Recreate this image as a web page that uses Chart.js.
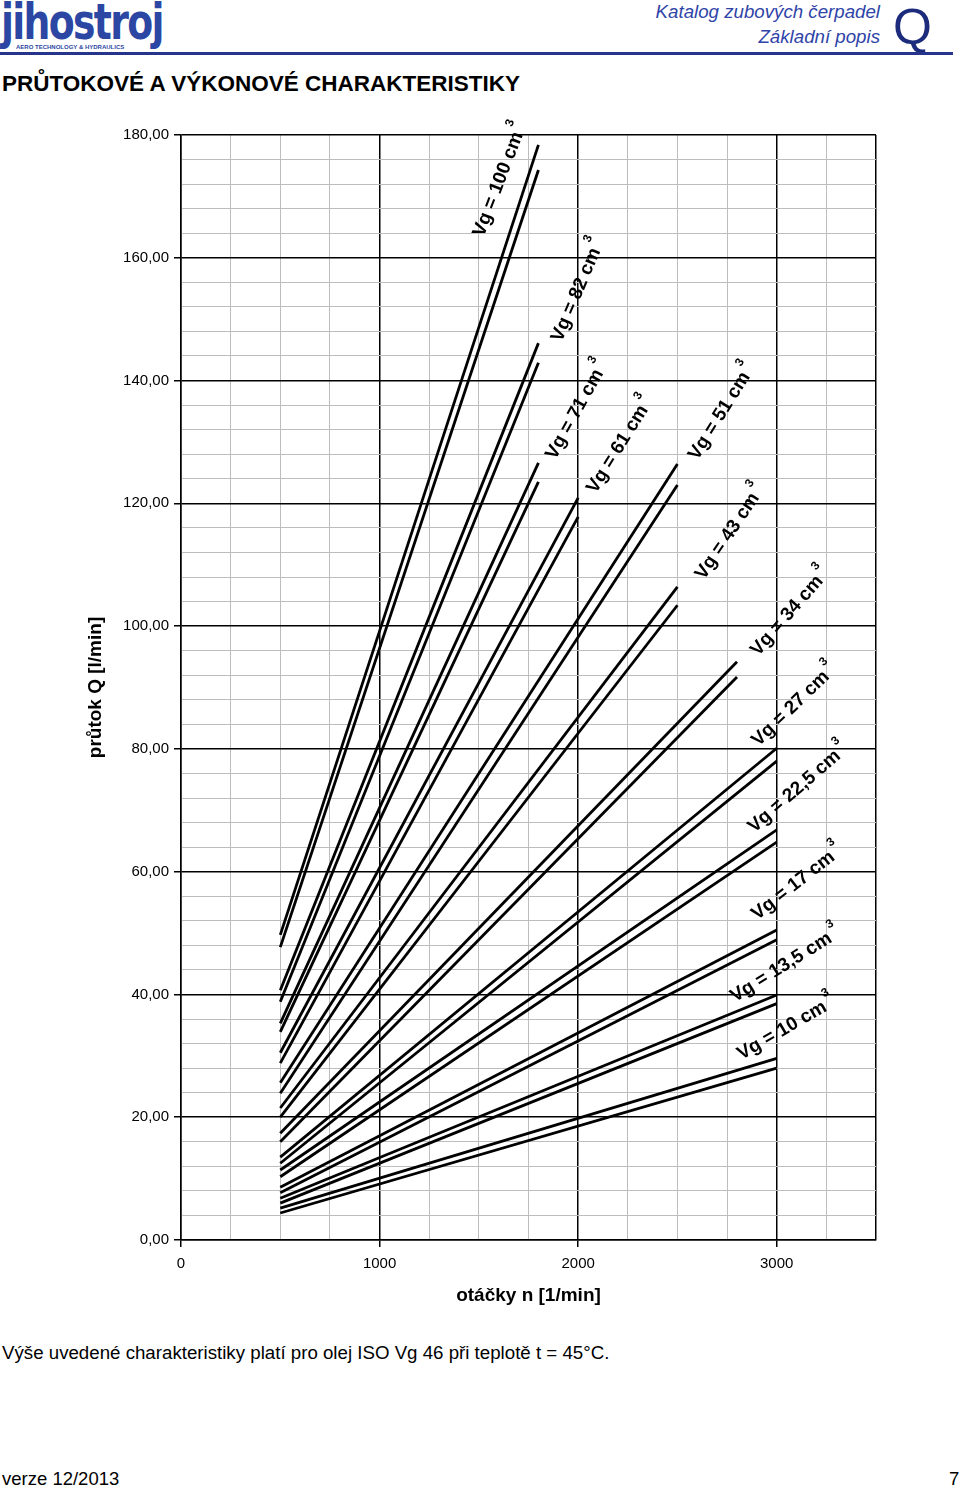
<!DOCTYPE html>
<html>
<head>
<meta charset="utf-8">
<title>Průtokové a výkonové charakteristiky</title>
<script src="https://cdn.jsdelivr.net/npm/chart.js@4"></script>
<style>
  body { margin: 0; background: #fff; font-family: "Liberation Sans", Arial, sans-serif; }
  .page { position: relative; width: 960px; height: 1487px; overflow: hidden; }
  .logo { position: absolute; left: 1px; top: -7px; color: #2b47a3; font-family: "DejaVu Sans Condensed", "DejaVu Sans", sans-serif;
          font-weight: bold; font-size: 50px; letter-spacing: -2px; transform: scaleX(0.84); transform-origin: left top; }
  .logo-sub { position: absolute; left: 16px; top: 44px; font-size: 6px; font-weight: bold; color: #2b47a3; }
  .hdr { position: absolute; right: 80px; font-style: italic; font-size: 18.7px; color: #2f44a8; text-align: right; }
  .bigq { position: absolute; left: 893px; top: -2px; font-size: 50px; color: #1c2b7c; }
  .hline { position: absolute; left: 0; top: 52px; width: 953px; height: 3px; background: #27348b; }
  .title { position: absolute; left: 2px; top: 71px; font-size: 22.5px; font-weight: bold; }
  .note { position: absolute; left: 2px; top: 1342px; font-size: 18.7px; }
  .foot { position: absolute; top: 1468px; font-size: 18.5px; }
  #box { position: absolute; left: 0; top: 100px; width: 960px; height: 1230px; }
</style>
</head>
<body>
<div class="page">
  <div class="logo">jihostroj</div>
  <div class="logo-sub">AERO TECHNOLOGY &amp; HYDRAULICS</div>
  <div class="hdr" style="top:1px">Katalog zubových čerpadel</div>
  <div class="hdr" style="top:26px">Základní popis</div>
  <div class="bigq">Q</div>
  <div class="hline"></div>
  <div class="title">PRŮTOKOVÉ A VÝKONOVÉ CHARAKTERISTIKY</div>
  <div id="box"><canvas id="flowChart" width="960" height="1230"></canvas></div>
  <div class="note">Výše uvedené charakteristiky platí pro olej ISO Vg 46 při teplotě t = 45°C.</div>
  <div class="foot" style="left:2px">verze 12/2013</div>
  <div class="foot" style="left:949px">7</div>
</div>
<script>
// geometric displacement of each pump [cm3]
var displacements = ['100', '82', '71', '61', '51', '43', '34', '27', '22,5', '17', '13,5', '10'];
// speed range [1/min]
var speedStart = 500;
var speedEnd = [1800, 1800, 1800, 2000, 2500, 2500, 2800, 3000, 3000, 3000, 3000, 3000];
// flow [l/min] - upper and lower curve of each pair
var flowUpperStart = [49.7, 40.7, 35.3, 30.5, 25.6, 21.5, 17.4, 13.5, 11.4, 8.6, 6.8, 5.2];
var flowUpperEnd = [178.4, 146.1, 126.6, 120.9, 126.4, 106.4, 94.2, 80.1, 66.8, 50.5, 39.9, 29.6];
var flowLowerStart = [47.7, 38.8, 33.9, 28.8, 23.9, 20.0, 16.0, 12.5, 10.3, 7.7, 6.0, 4.4];
var flowLowerEnd = [174.3, 142.9, 123.5, 117.8, 123.0, 103.4, 91.7, 78.0, 64.8, 48.9, 38.5, 28.0];

// where the "Vg = .." labels sit (speed, flow, angle in deg)
var labelPlace = [
    [1607, 172.7, -69], [2000, 154.7, -67], [1995, 135.2, -61], [2212, 129.5, -58],
    [2725, 134.9, -58], [2766, 115.3, -56], [3068, 102.3, -49], [3088, 87.1, -44],
    [3108, 73.6, -41], [3103, 58.2, -38], [3043, 44.8, -32], [3048, 34.5, -30]
];

var datasets = [];
for (var i = 0; i < displacements.length; i++) {
    datasets.push({
        label: 'Vg ' + displacements[i],
        data: [{x: speedStart, y: flowUpperStart[i]}, {x: speedEnd[i], y: flowUpperEnd[i]}]
    });
    datasets.push({
        label: 'Vg ' + displacements[i] + ' b',
        data: [{x: speedStart, y: flowLowerStart[i]}, {x: speedEnd[i], y: flowLowerEnd[i]}]
    });
}

var vgLabels = {
    id: 'vgLabels',
    afterDatasetsDraw: function(chart) {
        var ctx = chart.ctx;
        var xs = chart.scales.x, ys = chart.scales.y;
        var big = 'bold 19px "Liberation Sans", Arial';
        var small = 'bold 12px "Liberation Sans", Arial';
        ctx.save();
        ctx.fillStyle = '#000';
        ctx.textBaseline = 'middle';
        ctx.textAlign = 'left';
        for (var i = 0; i < displacements.length; i++) {
            var p = labelPlace[i];
            var main = 'Vg = ' + displacements[i] + ' cm';
            ctx.font = big;
            var w1 = ctx.measureText(main).width;
            ctx.font = small;
            var w2 = ctx.measureText('3').width;
            var start = -(w1 + 3 + w2) / 2;
            ctx.save();
            ctx.translate(xs.getPixelForValue(p[0]), ys.getPixelForValue(p[1]));
            ctx.rotate(p[2] * Math.PI / 180);
            ctx.font = big;
            ctx.fillText(main, start, 0);
            ctx.font = small;
            ctx.fillText('3', start + w1 + 3, -11);
            ctx.restore();
        }
        ctx.restore();
    }
};

var font = {family: '"Liberation Sans", Arial, sans-serif', size: 15};

new Chart(document.getElementById('flowChart'), {
    type: 'line',
    data: {datasets: datasets},
    options: {
        responsive: false,
        animation: false,
        layout: {padding: {left: 0, right: 84, top: 35, bottom: 0}},
        elements: {
            point: {radius: 0},
            line: {borderColor: '#000', borderWidth: 2.8, borderCapStyle: 'butt', tension: 0}
        },
        plugins: {legend: {display: false}, tooltip: {enabled: false}},
        scales: {
            x: {
                type: 'linear', min: 0, max: 3500,
                afterFit: function(s) { s.height = 90; },
                border: {color: '#000', width: 1.5},
                grid: {
                    color: function(c) { var v = c.tick.value; return (v % 1000 === 0 || v === 3500) ? '#000' : '#bdbdbd'; },
                    lineWidth: function(c) { var v = c.tick.value; return (v % 1000 === 0 || v === 3500) ? 1.5 : 1; },
                    tickColor: function(c) { return c.tick.value % 1000 === 0 ? '#000' : 'rgba(0,0,0,0)'; },
                    tickLength: 7
                },
                ticks: {
                    stepSize: 250, autoSkip: false, maxRotation: 0, padding: 8, color: '#000', font: font,
                    callback: function(v) { return v % 1000 === 0 ? String(v) : ''; }
                },
                title: {
                    display: true, text: 'otáčky n [1/min]', color: '#000',
                    font: {family: font.family, size: 19, weight: 'bold'},
                    padding: {top: 0, bottom: 23}
                }
            },
            y: {
                type: 'linear', min: 0, max: 180,
                afterFit: function(s) { s.width = 181; },
                border: {color: '#000', width: 1.5},
                grid: {
                    color: function(c) { return c.tick.value % 20 === 0 ? '#000' : '#bdbdbd'; },
                    lineWidth: function(c) { return c.tick.value % 20 === 0 ? 1.5 : 1; },
                    tickColor: function(c) { return c.tick.value % 20 === 0 ? '#000' : 'rgba(0,0,0,0)'; },
                    tickLength: 7
                },
                ticks: {
                    stepSize: 4, autoSkip: false, padding: 5, color: '#000', font: font,
                    callback: function(v) { return v % 20 === 0 ? v.toFixed(2).replace('.', ',') : ''; }
                },
                title: {
                    display: true, text: 'průtok Q [l/min]', color: '#000',
                    font: {family: font.family, size: 19, weight: 'bold'},
                    padding: {top: 84, bottom: 0}
                }
            }
        }
    },
    plugins: [vgLabels]
});
</script>
</body>
</html>
